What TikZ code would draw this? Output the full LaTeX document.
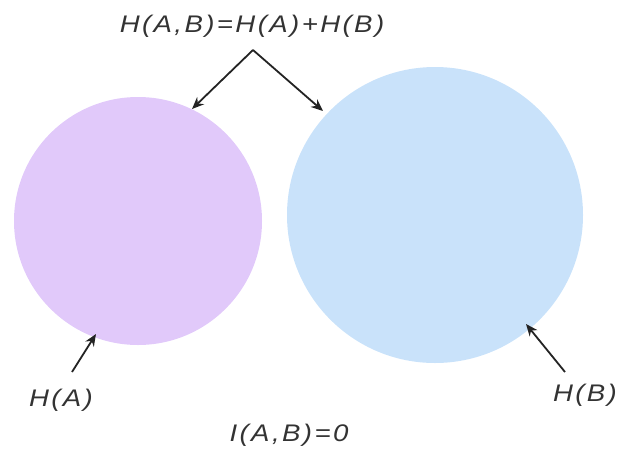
\documentclass[tikz,border=0pt]{standalone}
\usepackage{fontspec}
\setmainfont{Liberation Sans}
\newfontfamily\lblfont[LetterSpace=10,FakeStretch=1.15]{Liberation Sans}
\usetikzlibrary{arrows.meta}
\definecolor{setA}{RGB}{225,201,250}
\definecolor{setB}{RGB}{201,226,250}
\definecolor{pointer}{RGB}{35,35,35}
\tikzset{
  lbl/.style={font=\lblfont\fontsize{24}{26}\selectfont\itshape, text=black!80, inner sep=0pt},
  ptr/.style={pointer, line width=1.8pt, -{Stealth[length=12pt,width=10pt]}}
}
\begin{document}
\begin{tikzpicture}[x=1pt,y=-1pt]
\useasboundingbox (0,0) rectangle (618,456);

        \coordinate (A) at (138,221);
        \coordinate (B) at (435,215);
        \coordinate (apex) at (253,50);
        \coordinate (tA) at (192,109);
        \coordinate (tB) at (323,111);
        \coordinate (eA) at (96,334);
        \coordinate (sA) at (72,372);
        \coordinate (eB) at (526,324);
        \coordinate (sB) at (565,372);

        \fill[setA] (A) circle[radius=124];
        \fill[setB] (B) circle[radius=148];

        % Beschriftungen
        \node[lbl] (joint) at (252,26) {H(A,B)=H(A)+H(B)};
        \node[lbl] (HA) at (61,400) {H(A)};
        \node[lbl] (HB) at (585,395) {H(B)};
        \node[lbl] (MI) at (289,435) {I(A,B)=0};

        \draw[ptr] (apex) -- (tA);
        \draw[ptr] (apex) -- (tB);
        \draw[ptr] (sA) -- (eA);
        \draw[ptr] (sB) -- (eB);

\end{tikzpicture}
\end{document}
